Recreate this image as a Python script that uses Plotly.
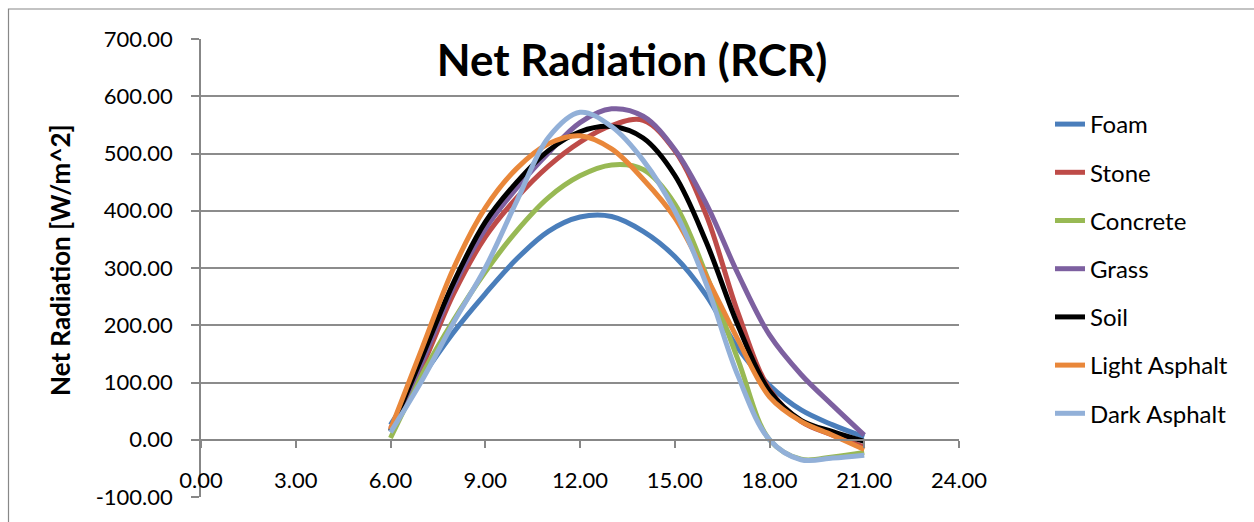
import plotly.graph_objects as go

hours = [6, 7, 8, 9, 10, 11, 12, 13, 14, 15, 16, 17, 18, 19, 20, 21]

foam = [26, 110, 188, 255, 316, 364, 389, 390, 364, 320, 252, 160, 95, 52, 26, 5]
stone = [20, 128, 255, 354, 423, 478, 520, 549, 558, 505, 392, 222, 88, 32, 8, -13]
concrete = [3, 114, 209, 293, 365, 423, 461, 480, 472, 412, 288, 140, 0, -34, -30, -22]
grass = [17, 136, 267, 368, 440, 501, 554, 578, 565, 507, 412, 290, 183, 114, 60, 8]
soil = [15, 145, 275, 380, 450, 505, 538, 547, 527, 462, 345, 200, 85, 34, 14, -3]
light_asphalt = [18, 160, 300, 405, 474, 517, 531, 508, 455, 388, 285, 175, 75, 32, 8, -17]
dark_asphalt = [13, 104, 205, 300, 417, 528, 572, 547, 488, 400, 272, 112, 0, -35, -32, -27]

series_names = ["Foam", "Stone", "Concrete", "Grass", "Soil", "Light Asphalt", "Dark Asphalt"]
series_values = [foam, stone, concrete, grass, soil, light_asphalt, dark_asphalt]
series_colors = ["#4A7EBB", "#BE4B48", "#98B954", "#7D60A0", "#000000", "#E9873A", "#92B0D8"]

x_tick_vals = [0, 3, 6, 9, 12, 15, 18, 21, 24]
x_tick_text = ["0.00", "3.00", "6.00", "9.00", "12.00", "15.00", "18.00", "21.00", "24.00"]
y_tick_vals = [-100, 0, 100, 200, 300, 400, 500, 600, 700]
y_tick_text = ["-100.00", "0.00", "100.00", "200.00", "300.00", "400.00", "500.00", "600.00", "700.00"]

FONT = "Lato"
W, H = 1254, 522
L, R, T, B = 201, 295, 39, 25
pw = W - L - R
ph = H - T - B

fig = go.Figure()
for name, vals, col in zip(series_names, series_values, series_colors):
    fig.add_trace(go.Scatter(
        x=hours, y=vals, name=name, mode="lines",
        line=dict(color=col, width=5, shape="spline", smoothing=1.0),
        legendgroup=name,
    ))

def px_x(p):
    return (p - L) / pw

def px_y(p):
    return (H - B - p) / ph

fig.update_layout(
    width=W, height=H,
    margin=dict(l=L, r=R, t=T, b=B, autoexpand=False),
    paper_bgcolor="white", plot_bgcolor="white",
    font=dict(family=FONT, size=22, color="#000000"),
    title=dict(text="<b>Net Radiation (RCR)</b>", font=dict(family=FONT, size=44, color="#000000"),
               x=px_x(632), xref="paper", xanchor="center",
               y=1 - 61 / H, yref="container", yanchor="middle"),
    xaxis=dict(range=[0, 24], tickvals=x_tick_vals, ticktext=x_tick_text,
               anchor="free", position=100 / 800,
               showline=True, linecolor="#878787", linewidth=1.5,
               ticks="outside", ticklen=7, tickcolor="#878787", tickwidth=1.5,
               showgrid=False, zeroline=False, ticklabelstandoff=14,
               tickfont=dict(family=FONT, size=22, color="#000000")),
    yaxis=dict(range=[-100, 700], tickvals=y_tick_vals, ticktext=y_tick_text,
               showline=True, linecolor="#878787", linewidth=1.5,
               ticks="outside", ticklen=8, tickcolor="#878787", tickwidth=1.5,
               showgrid=True, gridcolor="#8C8C8C", gridwidth=1.5, zeroline=False,
               ticklabelstandoff=14,
               tickfont=dict(family=FONT, size=22, color="#000000")),
    legend=dict(x=px_x(1050), y=px_y(102), xanchor="left", yanchor="top",
                xref="paper", yref="paper",
                font=dict(family=FONT, size=24, color="#000000"),
                tracegroupgap=14, bgcolor="rgba(0,0,0,0)", itemwidth=30),
    showlegend=True,
)

fig.add_annotation(text="<b>Net Radiation [W/m^2]</b>", textangle=-90,
                   x=px_x(60), y=px_y(260), xref="paper", yref="paper",
                   showarrow=False, font=dict(family=FONT, size=26, color="#000000"),
                   xanchor="center", yanchor="middle")

fig.add_shape(type="rect", xref="paper", yref="paper",
              x0=px_x(8.5), x1=px_x(W + 10), y0=px_y(H + 10), y1=px_y(9),
              line=dict(color="#888888", width=1.2), fillcolor="rgba(0,0,0,0)", layer="below")

fig.write_html("out.html")
